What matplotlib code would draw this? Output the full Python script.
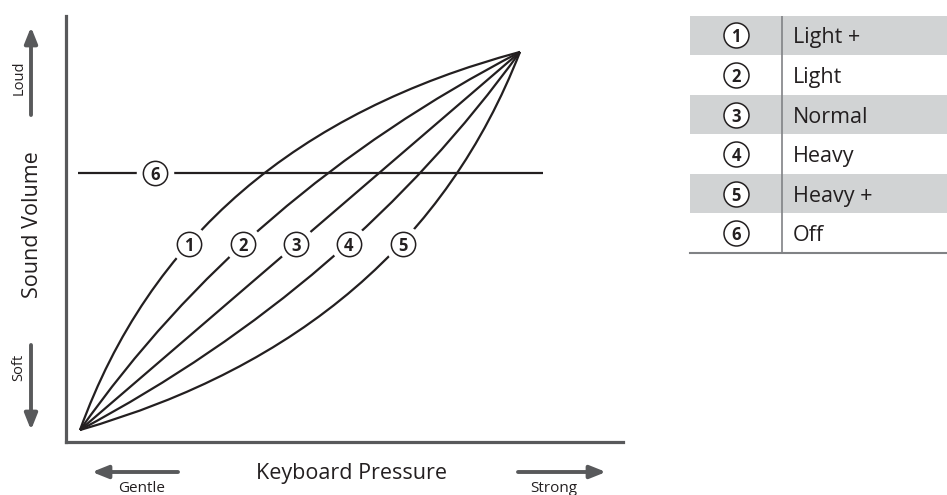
import matplotlib
matplotlib.use('Agg')
import matplotlib.pyplot as plt
from matplotlib.path import Path
from matplotlib.patches import PathPatch

plt.rcParams['font.family'] = ['Open Sans', 'DejaVu Sans']

# touch curves: quadratic curves from (0,0) to (1,1), control points
curve_ids = ['1', '2', '3', '4', '5']
ctrl_x = [0.237, 0.377, 0.500, 0.617, 0.749]
ctrl_y = [0.763, 0.623, 0.500, 0.383, 0.251]
label_x = [0.248, 0.370, 0.491, 0.611, 0.734]
label_y = [0.492, 0.492, 0.492, 0.492, 0.492]

# curve 6 (Off) is flat
off_id = '6'
off_y = 0.680
off_x = [-0.005, 1.052]
off_label_x = 0.170

# table
table_ids = ['1', '2', '3', '4', '5', '6']
table_names = ['Light +', 'Light', 'Normal', 'Heavy', 'Heavy +', 'Off']

ink = '#231f20'
gray = '#58595b'
shade = '#d1d3d4'
rule = '#808285'

fig = plt.figure(figsize=(9.47, 4.95), dpi=100)

# main chart
ax = fig.add_axes([66 / 947, 53 / 495, 557 / 947, 426 / 495])
ax.set_xlim(-0.0318, 1.234)
ax.set_ylim(-0.0317, 1.095)
for s in ['top', 'right']:
    ax.spines[s].set_visible(False)
for s in ['left', 'bottom']:
    ax.spines[s].set_color(gray)
    ax.spines[s].set_linewidth(2.3)
ax.set_xticks([])
ax.set_yticks([])

for i in range(len(curve_ids)):
    p = Path([(0, 0), (ctrl_x[i], ctrl_y[i]), (1, 1)],
             [Path.MOVETO, Path.CURVE3, Path.CURVE3])
    ax.add_patch(PathPatch(p, fill=False, ec=ink, lw=1.6, capstyle='butt', zorder=2))

ax.plot(off_x, [off_y, off_y], color=ink, lw=1.6, zorder=2, solid_capstyle='butt')

def circ_label(a, x, y, t, ms=17.5, mask=27, fs=12):
    if mask:
        a.plot(x, y, 'o', ms=mask, mfc='white', mec='none', zorder=3)
    a.plot(x, y, 'o', ms=ms, mfc='white', mec=ink, mew=1.1, zorder=4)
    a.text(x, y, t, ha='center', va='center_baseline', fontsize=fs,
           fontweight='bold', color=ink, zorder=5)

for i in range(len(curve_ids)):
    circ_label(ax, label_x[i], label_y[i], curve_ids[i])
circ_label(ax, off_label_x, off_y, off_id)

# decorations (arrows and axis words) in pixel space
ov = fig.add_axes([0, 0, 1, 1])
ov.set_xlim(0, 947)
ov.set_ylim(495, 0)
ov.axis('off')

def arrow(x0, y0, x1, y1):
    ov.annotate('', xy=(x1, y1), xytext=(x0, y0),
                arrowprops=dict(arrowstyle='-|>,head_length=0.95,head_width=0.38',
                                lw=2.8, color=gray, shrinkA=0, shrinkB=0))

arrow(31, 115, 31, 27)
arrow(31, 345, 31, 430)
arrow(178, 472, 92, 472)
arrow(518, 472, 606, 472)

ov.text(19, 78, 'Loud', rotation=90, ha='center', va='center', fontsize=10.5, color=ink)
ov.text(19, 367, 'Soft', rotation=90, ha='center', va='center', fontsize=10.5, color=ink)
ov.text(142, 489, 'Gentle', ha='center', va='center', fontsize=11, color=ink)
ov.text(554, 489, 'Strong', ha='center', va='center', fontsize=11, color=ink)
ov.text(351, 473, 'Keyboard Pressure', ha='center', va='center', fontsize=15.5, color=ink)
ov.text(33, 225, 'Sound Volume', rotation=90, ha='center', va='center', fontsize=15.5, color=ink)

# table
tb = fig.add_axes([690 / 947, (495 - 253) / 495, 257 / 947, 237.3 / 495])
tb.set_xlim(0, 1)
tb.set_ylim(len(table_ids), 0)
tb.axis('off')
for r in range(len(table_ids)):
    if r % 2 == 0:
        tb.axhspan(r, r + 1, color=shade, lw=0, zorder=0)
    circ_label(tb, 0.179, r + 0.5, table_ids[r], ms=18, mask=0, fs=12)
    tb.text(0.40, r + 0.5, table_names[r], ha='left', va='center_baseline',
            fontsize=15.5, color=ink)
tb.axvline(0.358, color=rule, lw=1.2)
tb.axhline(len(table_ids), color=rule, lw=1.5, clip_on=False)

fig.savefig('out.png', dpi=100)
